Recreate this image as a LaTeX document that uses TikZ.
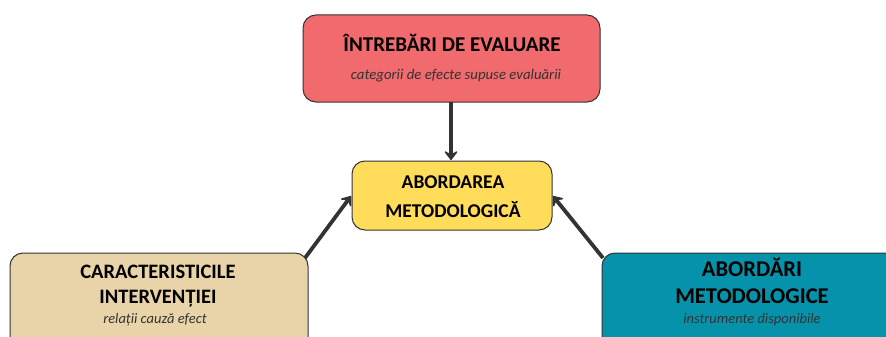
\documentclass[tikz,border=0pt]{standalone}
\usepackage{fontspec}
\setmainfont{Carlito}
\usetikzlibrary{arrows.meta}
\definecolor{redf}{HTML}{F06A6E}
\definecolor{yelf}{HTML}{FFDC5A}
\definecolor{tanf}{HTML}{E9D3A8}
\definecolor{tealf}{HTML}{0592AA}
\definecolor{edge}{HTML}{333333}
\definecolor{subc}{HTML}{333333}
\tikzset{
  box/.style={draw=edge, line width=1pt, rounded corners=13pt, inner sep=0pt},
  ttl/.style={text=black, inner sep=0pt, anchor=center},
  sub/.style={text=subc, inner sep=0pt, anchor=center},
  conn/.style={draw=edge, line width=3.8pt, -{Stealth[length=11pt,width=17pt,inset=5pt,round]}, shorten >=0pt}
}
\begin{document}
\begin{tikzpicture}[x=1pt,y=-1pt]
\useasboundingbox (0,0) rectangle (886,337);
\clip (0,0) rectangle (886,337);
% boxes
\path[box, fill=redf] (303,15) rectangle (600,102);
\path[box, fill=yelf] (352,161) rectangle (552,230);
\path[box, fill=tanf] (10,253) rectangle (308,360);
\path[box, fill=tealf] (602,253) rectangle (910,360);
% named anchor coordinates
\coordinate (topb) at (451,102);
\coordinate (ctop) at (451,160);
\coordinate (cl) at (351,196);
\coordinate (cr) at (553,196);
\coordinate (lb) at (305,258);
\coordinate (rb) at (603,258);
% texts
\node[ttl, font=\bfseries\fontsize{21}{24}\selectfont] (t1) at (452,43) {ÎNTREBĂRI DE EVALUARE};
\node[sub, font=\itshape\fontsize{14.8}{17}\selectfont] (t1s) at (456,76) {categorii de efecte supuse evaluării};
\node[ttl, font=\bfseries\fontsize{19.5}{22}\selectfont] (c1) at (453,182) {ABORDAREA};
\node[ttl, font=\bfseries\fontsize{19.5}{22}\selectfont] (c2) at (453,210) {METODOLOGICĂ};
\node[ttl, font=\bfseries\fontsize{20.5}{23}\selectfont] (l1) at (158,272) {CARACTERISTICILE};
\node[ttl, font=\bfseries\fontsize{20.5}{23}\selectfont] (l2) at (158,299) {INTERVENȚIEI};
\node[sub, font=\itshape\fontsize{14.5}{17}\selectfont] (l3) at (155,320) {relații cauză efect};
\node[ttl, font=\bfseries\fontsize{22.5}{25}\selectfont] (r1) at (752,267) {ABORDĂRI};
\node[ttl, font=\bfseries\fontsize{22.5}{25}\selectfont] (r2) at (752,296) {METODOLOGICE};
\node[sub, font=\itshape\fontsize{14.5}{17}\selectfont] (r3) at (752,320) {instrumente disponibile};
% connectors
\draw[conn] (topb) -- (ctop);
\draw[conn] (lb) -- (cl);
\draw[conn] (rb) -- (cr);
\end{tikzpicture}
\end{document}
